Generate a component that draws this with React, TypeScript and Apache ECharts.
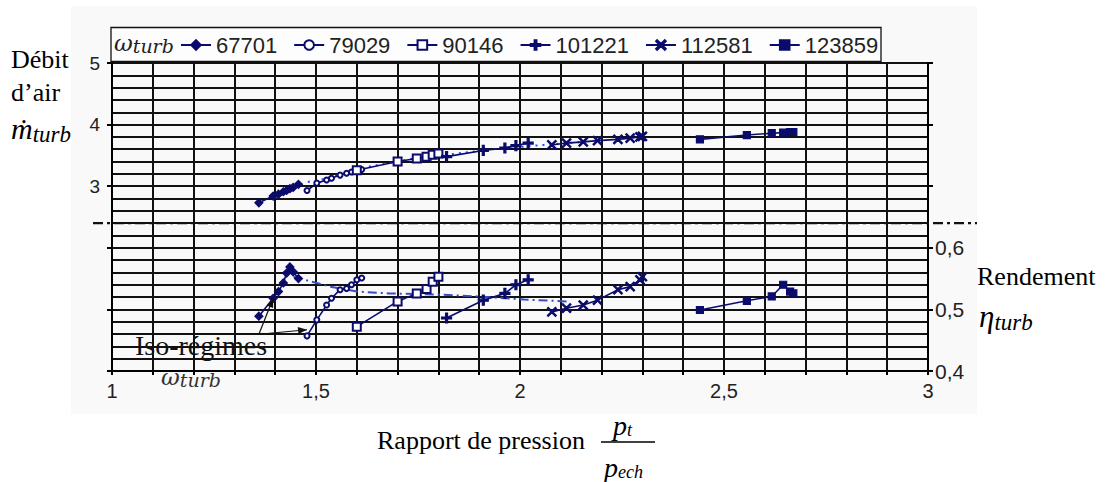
import React, { useEffect, useRef } from "react";
import * as echarts from "echarts";

// ---------- data ----------
const speeds = ["67701", "79029", "90146", "101221", "112581", "123859"];

// pressure ratio of each measured point, per turbine speed
const pr67701 = [1.36, 1.395, 1.408, 1.42, 1.428, 1.436, 1.444, 1.457];
const pr79029 = [1.478, 1.502, 1.526, 1.538, 1.559, 1.575, 1.587, 1.6, 1.612];
const pr90146 = [1.6, 1.7, 1.747, 1.771, 1.786, 1.8];
const pr101221 = [1.82, 1.91, 1.963, 1.99, 2.02];
const pr112581 = [2.078, 2.114, 2.155, 2.19, 2.24, 2.27, 2.294, 2.3];
const pr123859 = [2.441, 2.556, 2.617, 2.645, 2.662, 2.67];

// mass flow (upper panel, left axis)
const flow67701 = [2.73, 2.84, 2.87, 2.91, 2.93, 2.96, 2.98, 3.03];
const flow79029 = [2.93, 3.05, 3.1, 3.13, 3.18, 3.21, 3.23, 3.26, 3.27];
const flow90146 = [3.26, 3.4, 3.45, 3.48, 3.51, 3.53];
const flow101221 = [3.48, 3.58, 3.62, 3.66, 3.7];
const flow112581 = [3.67, 3.7, 3.72, 3.74, 3.76, 3.78, 3.8, 3.81];
const flow123859 = [3.76, 3.83, 3.86, 3.87, 3.88, 3.88];

// efficiency (lower panel, right axis)
const eff67701 = [0.489, 0.518, 0.529, 0.543, 0.559, 0.569, 0.561, 0.55];
const eff79029 = [0.457, 0.483, 0.507, 0.518, 0.532, 0.534, 0.54, 0.548, 0.551];
const eff90146 = [0.472, 0.513, 0.526, 0.533, 0.545, 0.553];
const eff101221 = [0.486, 0.515, 0.526, 0.54, 0.548];
const eff112581 = [0.496, 0.502, 0.507, 0.515, 0.532, 0.537, 0.548, 0.553];
const eff123859 = [0.499, 0.514, 0.521, 0.54, 0.529, 0.526];

// optimum-efficiency trace
const optPrEff = [1.445, 1.534, 1.6, 1.68, 1.8, 1.9, 2.01, 2.114];
const optEff = [0.553, 0.537, 0.529, 0.526, 0.524, 0.521, 0.516, 0.513];
const optPrFlow = [1.48, 1.51, 1.632, 1.74, 1.845, 1.935, 2.057, 2.155];
const optFlow = [3.07, 3.1, 3.32, 3.45, 3.53, 3.6, 3.67, 3.72];

// axis ticks
const xLabelTicks = [1, 1.5, 2, 2.5, 3];
const leftLabelTicks = [3, 4, 5];
const rightLabelTicks = [0.4, 0.5, 0.6];
const separatorFlow = 2.4;

const prList = [pr67701, pr79029, pr90146, pr101221, pr112581, pr123859];
const flowList = [flow67701, flow79029, flow90146, flow101221, flow112581, flow123859];
const effList = [eff67701, eff79029, eff90146, eff101221, eff112581, eff123859];

const NAVY = "#0b0b6b";
const PLUS = "path://M4,0H6V4H10V6H6V10H4V6H0V4H4Z";
const CROSS = "path://M1,0L5,4L9,0L10,1L6,5L10,9L9,10L5,6L1,10L0,9L4,5L0,1Z";
const symbols = [
  { symbol: "diamond", size: 8 },
  { symbol: "emptyCircle", size: 5 },
  { symbol: "emptyRect", size: 8 },
  { symbol: PLUS, size: 10 },
  { symbol: CROSS, size: 9 },
  { symbol: "rect", size: 7 },
];

const zip = (a: number[], b: number[]) => a.map((v, i) => [v, b[i]]);
const near = (v: number, list: number[]) => list.some((t) => Math.abs(v - t) < 1e-6);
const comma = (v: number) => String(Math.round(v * 10) / 10).replace(".", ",");

const SANS = "Liberation Sans, Arial, sans-serif";
const SERIF = "Liberation Serif, Times New Roman, DejaVu Serif, serif";
const MATH = "DejaVu Serif, serif";

export default function App() {
  const ref = useRef<HTMLDivElement>(null);
  useEffect(() => {
    if (!ref.current) return;
    const chart = echarts.init(ref.current, undefined, { renderer: "svg" });
    const series: any[] = [];
    speeds.forEach((name, i) => {
      const common = {
        name,
        type: "line",
        symbol: symbols[i].symbol,
        symbolSize: symbols[i].size,
        color: NAVY,
        lineStyle: { color: NAVY, width: 1.6 },
        itemStyle: { color: NAVY, borderColor: NAVY, borderWidth: 1.2 },
        z: 5,
      };
      series.push({ ...common, yAxisIndex: 0, data: zip(prList[i], flowList[i]) });
      series.push({ ...common, yAxisIndex: 1, data: zip(prList[i], effList[i]) });
    });
    series.push({
      name: "optEff",
      type: "line",
      yAxisIndex: 1,
      symbol: "none",
      data: zip(optPrEff, optEff),
      lineStyle: { color: "#3b4cc0", width: 2, type: [9, 4, 2, 4] },
      z: 4,
    });
    series.push({
      name: "optFlow",
      type: "line",
      yAxisIndex: 0,
      symbol: "none",
      data: zip(optPrFlow, optFlow),
      lineStyle: { color: "#2a45ff", width: 2, type: [2, 5] },
      z: 4,
    });

    const gridLine = { color: "#111", width: 2 };
    const option: any = {
      animation: false,
      backgroundColor: "#ffffff",
      grid: { left: 112, top: 63, width: 816, height: 308 },
      legend: {
        data: speeds,
        left: 180,
        top: 34,
        padding: 0,
        itemWidth: 30,
        itemHeight: 12,
        itemGap: 16,
        selectedMode: false,
        textStyle: { fontSize: 22, color: "#222", fontFamily: SANS },
      },
      xAxis: {
        type: "value",
        min: 1,
        max: 3,
        interval: 0.1,
        axisLine: { show: true, lineStyle: { color: "#000", width: 2 } },
        axisTick: { show: true, length: 4, lineStyle: { color: "#000", width: 2 } },
        splitLine: { show: true, lineStyle: gridLine },
        axisLabel: {
          margin: 10,
          fontSize: 20,
          color: "#222",
          fontFamily: SANS,
          showMinLabel: true,
          showMaxLabel: true,
          formatter: (v: number) => (near(v, xLabelTicks) ? comma(v) : ""),
        },
      },
      yAxis: [
        {
          type: "value",
          position: "left",
          min: 0,
          max: 5,
          interval: 1,
          axisLine: { show: true, lineStyle: { color: "#000", width: 2 } },
          axisTick: { show: true, length: 5, lineStyle: { color: "#000", width: 2 } },
          splitLine: { show: true, lineStyle: gridLine },
          minorTick: { show: false, splitNumber: 5 },
          minorSplitLine: { show: true, lineStyle: gridLine },
          axisLabel: {
            margin: 12,
            fontSize: 19,
            color: "#222",
            fontFamily: SANS,
            formatter: (v: number) => (near(v, leftLabelTicks) ? String(v) : ""),
          },
        },
        {
          type: "value",
          position: "right",
          min: 0.4,
          max: 0.9,
          interval: 0.1,
          axisLine: { show: true, lineStyle: { color: "#000", width: 2 } },
          axisTick: { show: true, length: 5, lineStyle: { color: "#000", width: 2 } },
          splitLine: { show: false },
          axisLabel: {
            margin: 7,
            fontSize: 21,
            color: "#222",
            fontFamily: SANS,
            formatter: (v: number) => (near(v, rightLabelTicks) ? comma(v) : ""),
          },
        },
      ],
      series,
    };
    chart.setOption(option);

    const sepY = chart.convertToPixel({ yAxisIndex: 0 }, separatorFlow) as number;
    const a1 = chart.convertToPixel({ xAxisIndex: 0, yAxisIndex: 1 }, [pr67701[1], eff67701[1]]) as number[];
    const a2 = chart.convertToPixel({ xAxisIndex: 0, yAxisIndex: 1 }, [pr79029[0], eff79029[0] + 0.01]) as number[];
    const arrowHead = (from: number[], to: number[]) => {
      const ang = Math.atan2(to[1] - from[1], to[0] - from[0]);
      const L = 9, W = 3.5;
      const bx = to[0] - L * Math.cos(ang), by = to[1] - L * Math.sin(ang);
      return {
        type: "polygon",
        shape: {
          points: [
            to,
            [bx + W * Math.sin(ang), by - W * Math.cos(ang)],
            [bx - W * Math.sin(ang), by + W * Math.cos(ang)],
          ],
        },
        style: { fill: "#111" },
        z: 20,
      };
    };
    const s1 = [259, 334];
    const s2 = [262, 334];
    const sub = (big: number, small: number, font: string, pad: number, fill = "#000") => ({
      m: { fontFamily: font, fontStyle: "italic", fontSize: big, fill },
      s: { fontFamily: font, fontStyle: "italic", fontSize: small, fill, padding: [pad, 0, 0, 0] },
    });
    const graphic: any[] = [
      { type: "rect", shape: { x: 71, y: 6, width: 906, height: 408 }, style: { fill: "#f9f9f9" }, z: -100, silent: true },
      { type: "rect", shape: { x: 111, y: 27.5, width: 770, height: 34 }, style: { fill: "#fdfdfd", stroke: "#111", lineWidth: 1.3 }, z: 1 },
      {
        type: "text", x: 114, y: 43, z: 30,
        style: { text: "{m|ω}{s|turb}", textVerticalAlign: "middle", rich: sub(23, 19, MATH, 6, "#222") },
      },
      { type: "line", shape: { x1: 93, y1: sepY, x2: 977, y2: sepY }, style: { stroke: "#111", lineWidth: 2.2, lineDash: [10, 4, 3, 4] }, z: 15 },
      { type: "text", x: 11, y: 59, style: { text: "Débit", font: `26px ${SERIF}`, fill: "#000", textVerticalAlign: "middle" } },
      { type: "text", x: 11, y: 92, style: { text: "d’air", font: `26px ${SERIF}`, fill: "#000", textVerticalAlign: "middle" } },
      {
        type: "text", x: 11, y: 128,
        style: { text: "{m|ṁ}{s|turb}", textVerticalAlign: "middle", rich: sub(30, 23, SERIF, 12) },
      },
      { type: "text", x: 977, y: 276, style: { text: "Rendement", font: `26px ${SERIF}`, fill: "#000", textVerticalAlign: "middle" } },
      {
        type: "text", x: 979, y: 316,
        style: { text: "{m|η}{s|turb}", textVerticalAlign: "middle", rich: sub(31, 23, SERIF, 12) },
      },
      { type: "text", x: 377, y: 440, style: { text: "Rapport de pression", font: `26px ${SERIF}`, fill: "#000", textVerticalAlign: "middle" } },
      {
        type: "text", x: 613, y: 425,
        style: { text: "{m|p}{s|t}", textVerticalAlign: "middle", rich: sub(28, 18, SERIF, 10) },
      },
      { type: "line", shape: { x1: 601, y1: 442, x2: 655, y2: 442 }, style: { stroke: "#000", lineWidth: 1.3 } },
      {
        type: "text", x: 604, y: 467,
        style: { text: "{m|p}{s|ech}", textVerticalAlign: "middle", rich: sub(28, 18, SERIF, 10) },
      },
      { type: "text", x: 201, y: 345, z: 25, style: { text: "Iso-régimes", font: `28px ${SERIF}`, fill: "#111", textAlign: "center", textVerticalAlign: "middle" } },
      {
        type: "text", x: 191, y: 377, z: 25,
        style: { text: "{m|ω}{s|turb}", textAlign: "center", textVerticalAlign: "middle", rich: sub(23, 19, MATH, 6, "#333") },
      },
      { type: "line", shape: { x1: s1[0], y1: s1[1], x2: a1[0], y2: a1[1] }, style: { stroke: "#111", lineWidth: 1.2 }, z: 20 },
      arrowHead(s1, a1),
      { type: "line", shape: { x1: s2[0], y1: s2[1], x2: a2[0], y2: a2[1] }, style: { stroke: "#111", lineWidth: 1.2 }, z: 20 },
      arrowHead(s2, a2),
    ];
    chart.setOption({ graphic });
    return () => chart.dispose();
  }, []);
  return (
    <div
      ref={ref}
      style={{ position: "fixed", left: 0, top: 0, width: 1106, height: 482, background: "#fff" }}
    />
  );
}
